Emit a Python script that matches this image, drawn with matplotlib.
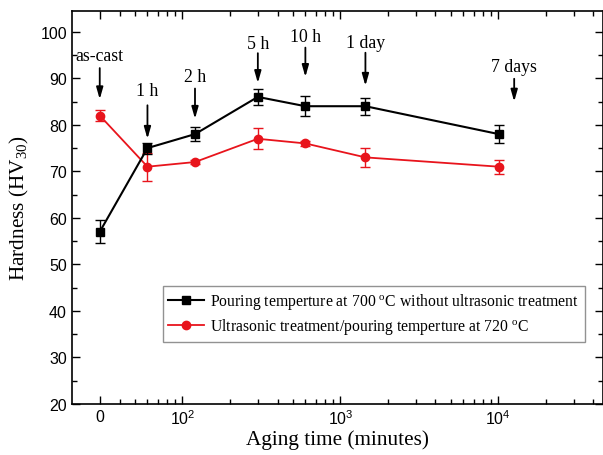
import numpy as np
import matplotlib
matplotlib.use("Agg")
import matplotlib.pyplot as plt
from matplotlib.ticker import FixedLocator, NullFormatter
from matplotlib.lines import Line2D

plt.rcParams['mathtext.fontset'] = 'custom'
plt.rcParams['mathtext.rm'] = 'Liberation Serif'
plt.rcParams['mathtext.it'] = 'Liberation Serif:italic'
plt.rcParams['mathtext.bf'] = 'Liberation Serif:bold'
plt.rcParams['mathtext.sf'] = 'Liberation Sans'

# aging time in minutes, 0 = as-cast
times = [0, 60, 120, 300, 600, 1440, 10080]
labels = ["as-cast", "1 h", "2 h", "5 h", "10 h", "1 day", "7 days"]

hv_700 = [57, 75, 78, 86, 84, 84, 78]
err_700 = [2.5, 1.2, 1.5, 1.7, 2.2, 1.8, 2.0]
hv_720_us = [82, 71, 72, 77, 76, 73, 71]
err_720_us = [1.2, 3.0, 0.5, 2.3, 0.5, 2.0, 1.5]

# arrow annotations: x position, text centre, arrow tail, arrow tip
arrow_x = [0, 60, 120, 300, 600, 1440, 12600]
text_y = [94.8, 87.3, 90.3, 97.4, 98.9, 97.8, 92.5]
tail_y = [92.2, 84.2, 87.8, 95.4, 96.6, 95.5, 89.9]
tip_y = [85.5, 77.0, 81.3, 89.0, 90.3, 88.4, 85.0]

serif = "Liberation Serif"
sans = "Liberation Sans"

fig = plt.figure(figsize=(6.03, 4.56), dpi=100)
ax = fig.add_axes([0.119, 0.112, 0.881, 0.862])

ax.errorbar(times, hv_700, yerr=err_700, color="black", lw=1.5, marker="s", ms=5.5,
            capsize=3.5, capthick=1.0, elinewidth=1.0, zorder=3)
ax.errorbar(times, hv_720_us, yerr=err_720_us, color="#e8141c", lw=1.3, marker="o", ms=6,
            capsize=3.5, capthick=1.0, elinewidth=1.0, zorder=2)

for x, t, y0, y1, lab in zip(arrow_x, text_y, tail_y, tip_y, labels):
    ax.annotate("", xy=(x, y1), xytext=(x, y0),
                arrowprops=dict(arrowstyle="-|>,head_length=0.7,head_width=0.2",
                                color="black", lw=1.3, shrinkA=0, shrinkB=0))
    ax.text(x, t, lab, ha="center", va="center", fontsize=12.8, family=serif)

ax.set_xscale("symlog", linthresh=30, linscale=0.001)
ax.set_xlim(-45, 46000)
ax.set_ylim(20, 104.5)

ax.xaxis.set_major_locator(FixedLocator([0, 100, 1000, 10000]))
ax.set_xticklabels(["0", r"$\mathsf{10^2}$", r"$\mathsf{10^3}$", r"$\mathsf{10^4}$"])
minor = [40, 50, 60, 70, 80, 90] + list(range(200, 1000, 100)) + \
    list(range(2000, 10000, 1000)) + [20000, 30000, 40000]
ax.xaxis.set_minor_locator(FixedLocator(minor))
ax.xaxis.set_minor_formatter(NullFormatter())

ax.set_yticks(np.arange(20, 101, 10))
ax.yaxis.set_minor_locator(FixedLocator(np.arange(25, 105, 10)))

ax.tick_params(which="both", direction="in", top=True, right=True, labelsize=11.5, width=1.0)
ax.tick_params(which="major", length=6)
ax.tick_params(which="minor", length=3.5)
for lab in ax.get_xticklabels() + ax.get_yticklabels():
    lab.set_fontfamily(sans)
for s in ax.spines.values():
    s.set_linewidth(1.2)

ax.set_xlabel("Aging time (minutes)", fontsize=15.3, family=serif, labelpad=1)
ax.set_ylabel(r"Hardness (HV$_{30}$)", fontsize=15.3, family=serif, labelpad=7)

handles = [
    Line2D([], [], color="black", lw=1.5, marker="s", ms=5.5),
    Line2D([], [], color="#e8141c", lw=1.3, marker="o", ms=6),
]
names = [r"Pouring temperture at 700 $^{\mathrm{o}}$C without ultrasonic treatment",
         r"Ultrasonic treatment/pouring temperture at 720 $^{\mathrm{o}}$C"]
leg = ax.legend(handles, names, loc="upper left", bbox_to_anchor=(0.171, 0.30),
                prop={"family": serif, "size": 11.3}, frameon=True, fancybox=False,
                edgecolor="#777777", handlelength=2.3, handletextpad=0.4,
                borderpad=0.35, labelspacing=0.3, borderaxespad=0)
leg.get_frame().set_linewidth(1.0)

fig.savefig("out.png", dpi=100)
